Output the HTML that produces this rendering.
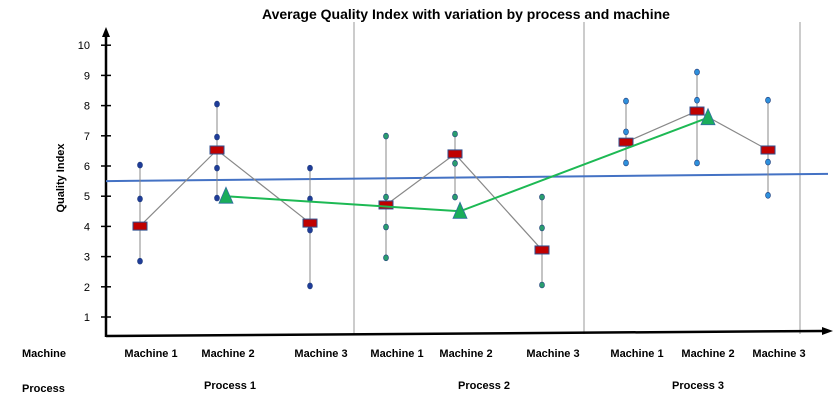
<!DOCTYPE html>
<html><head><meta charset="utf-8"><style>
body{margin:0;background:#fff}
svg text{font-family:"Liberation Sans",Arial,sans-serif}
</style></head><body>
<svg id="chart" width="838" height="409" xmlns="http://www.w3.org/2000/svg">
<text x="466" y="19" text-anchor="middle" font-size="14" font-weight="bold">Average Quality Index  with  variation by process and machine</text>
<text transform="translate(64,178) rotate(-90)" text-anchor="middle" font-size="11" font-weight="bold">Quality Index</text>
<text x="22" y="357" font-size="11" font-weight="bold">Machine</text>
<text x="22" y="392" font-size="11" font-weight="bold">Process</text>
<g id="grid"></g><g id="axes"></g><g id="marks"></g><g id="labels"></g>
</svg>
<script>
const processes=["Process 1","Process 2","Process 3"];
const machines=["Machine 1","Machine 2","Machine 3"];
const samples=[[6.03,4.91,2.85],[8.05,6.96,5.93,4.94],[5.93,4.91,3.88,2.03],
 [6.99,4.97,3.98,2.96],[7.06,6.09,4.97],[4.97,3.95,2.06],
 [8.15,7.13,6.1],[9.11,8.18,6.1],[8.18,6.13,5.03]];
const machineMeans=[4.01,6.53,4.11,4.71,6.4,3.22,6.79,7.82,6.53];
const processMeans=[5.0,4.5,7.6];
const overallTrend=[5.5,5.74];
const yTicks=[1,2,3,4,5,6,7,8,9,10];

const NS="http://www.w3.org/2000/svg";
function y(v){return 347.2-30.2*v;}
const groupX=[140,217,310,386,455,542,626,697,768];
function xM(i){return groupX[i];}
const triX=[226,460,708];
const sepX=[354,584,800];
function mk(t,a,p){const e=document.createElementNS(NS,t);for(const k in a)e.setAttribute(k,a[k]);document.getElementById(p).appendChild(e);return e;}

sepX.forEach((sx,i)=>{const l=mk('line',{x1:sx,y1:22,x2:sx,y2:334,stroke:'#999','stroke-width':1},'grid');

});

let a=mk('line',{x1:106,y1:337,x2:106,y2:34,stroke:'#000','stroke-width':2.5},'axes');

a=mk('polygon',{points:'106,27 102,37 110,37',fill:'#000'},'axes');

a=mk('line',{x1:106,y1:336,x2:824,y2:331,stroke:'#000','stroke-width':2.5},'axes');

a=mk('polygon',{points:'833,331 822,327 822,335',fill:'#000'},'axes');

yTicks.forEach(t=>{const l=mk('line',{x1:101,y1:y(t),x2:111,y2:y(t),stroke:'#000','stroke-width':1.5},'axes');

const tx=mk('text',{x:90,y:y(t)+4,'text-anchor':'end','font-size':11},'axes');tx.textContent=t;
});

a=mk('line',{x1:106,y1:y(overallTrend[0]),x2:828,y2:y(overallTrend[1]),stroke:'#4472c4','stroke-width':2},'marks');


const dotFill=['#1f3c99','#2a9d6f','#2e90dc'];
samples.forEach((s,i)=>{const x=xM(i);const mx=Math.max(...s),mn=Math.min(...s);
 const l=mk('line',{x1:x,y1:y(mx),x2:x,y2:y(mn),stroke:'#888','stroke-width':1},'marks');
 
 s.forEach(v=>{const c=mk('ellipse',{cx:x,cy:y(v),rx:2.5,ry:3,fill:dotFill[Math.floor(i/3)],stroke:'#1f3c7a','stroke-width':0.6},'marks');
 });});
for(let p=0;p<3;p++){const pts=[0,1,2].map(m=>xM(p*3+m)+','+y(machineMeans[p*3+m])).join(' ');
 const pl=mk('polyline',{points:pts,fill:'none',stroke:'#888','stroke-width':1.2},'marks');
 }
machineMeans.forEach((v,i)=>{const r=mk('rect',{x:xM(i)-7,y:y(v)-4,width:14,height:8,fill:'#c00000',stroke:'#2f4f8f','stroke-width':1},'marks');
 });
const gpts=processMeans.map((v,i)=>triX[i]+','+y(v)).join(' ');
a=mk('polyline',{points:gpts,fill:'none',stroke:'#1db954','stroke-width':2},'marks');

processMeans.forEach((v,i)=>{const x=triX[i],yy=y(v);
 const t=mk('polygon',{points:`${x},${yy-9} ${x-7},${yy+7} ${x+7},${yy+7}`,fill:'#1aad5a',stroke:'#2f6f9f','stroke-width':0.8},'marks');
 });

machines.forEach((m,j)=>{for(let p=0;p<3;p++){const t=mk('text',{x:xM(p*3+j)+11,y:357,'text-anchor':'middle','font-size':11,'font-weight':'bold'},'labels');
 t.textContent=m;}});
const procX=[230,484,698];
processes.forEach((p,i)=>{const t=mk('text',{x:procX[i],y:389,'text-anchor':'middle','font-size':11,'font-weight':'bold'},'labels');
 t.textContent=p;});
</script>
</body></html>
